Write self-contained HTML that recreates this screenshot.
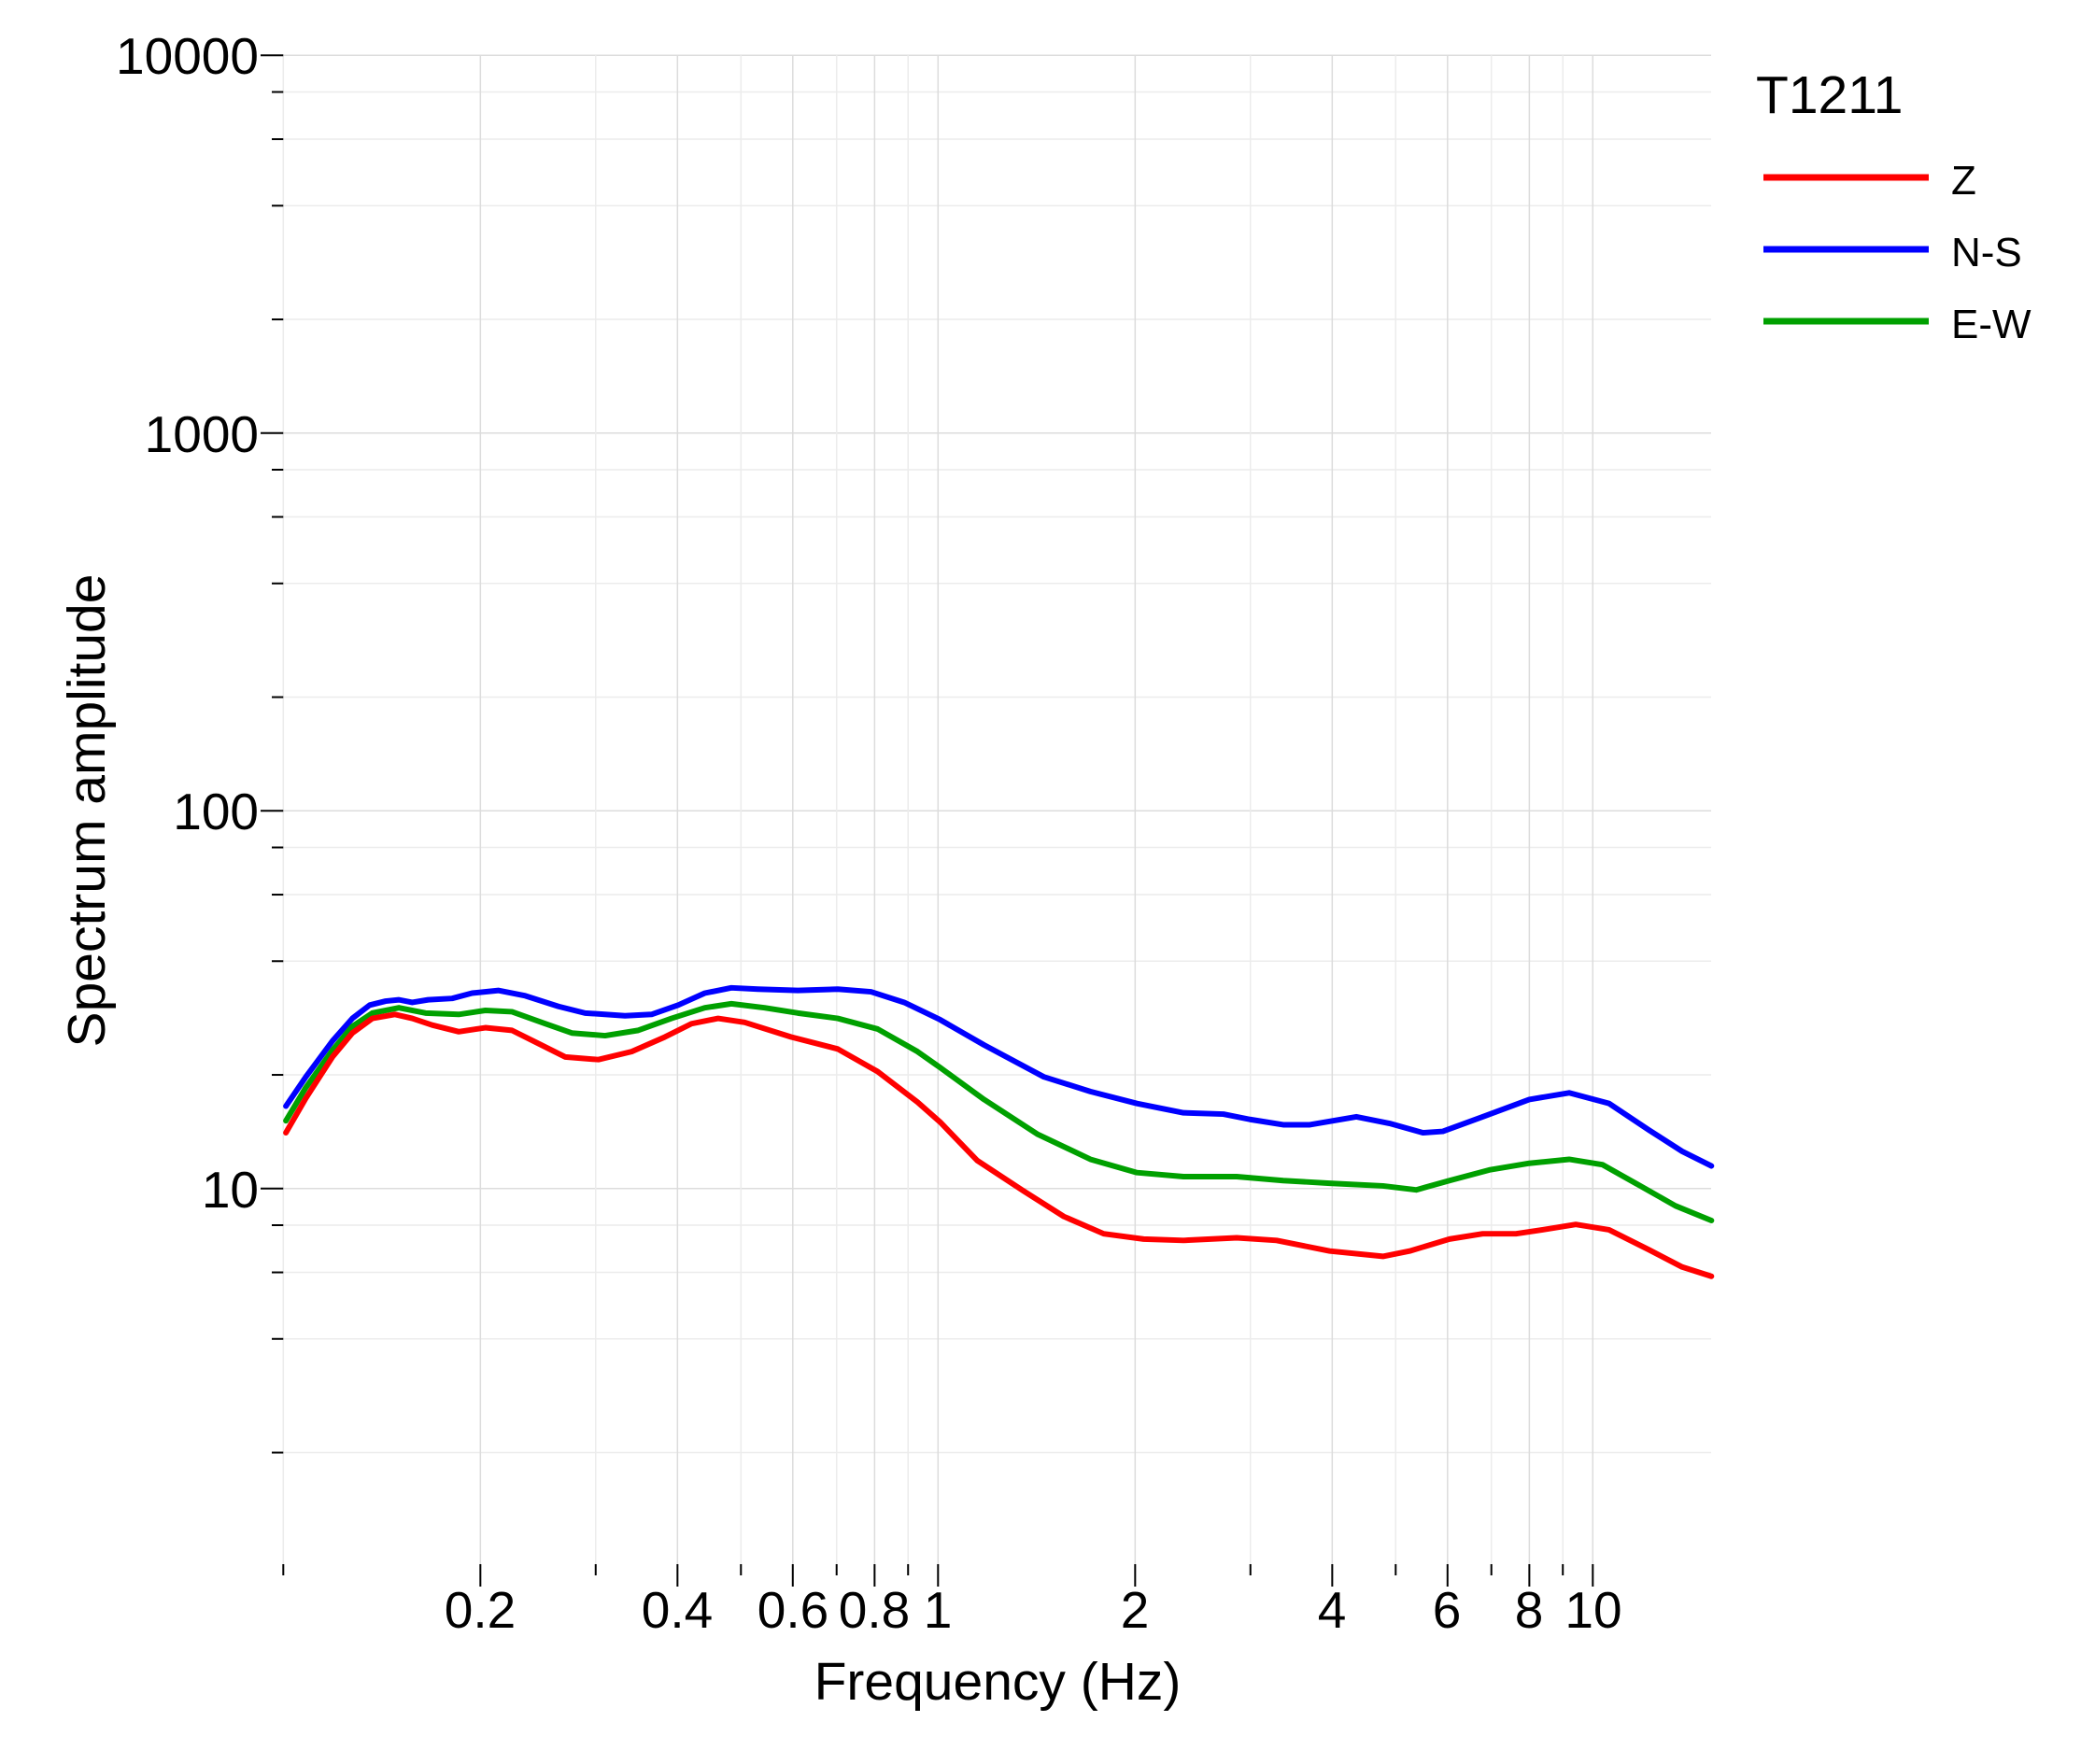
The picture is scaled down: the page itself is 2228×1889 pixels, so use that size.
<!DOCTYPE html>
<html><head><meta charset="utf-8"><style>
html,body{margin:0;padding:0;background:#fff}
svg{display:block}
text{font-family:"Liberation Sans",Arial,sans-serif;fill:#000}
</style></head><body>
<svg id="s" width="2228" height="1889" viewBox="0 0 2228 1889" xmlns="http://www.w3.org/2000/svg">
<g id="grid"></g>
<g id="ticks"></g>
<g font-size="55" text-anchor="end">
<text x="277" y="79">10000</text>
<text x="277" y="484">1000</text>
<text x="277" y="888">100</text>
<text x="277" y="1293">10</text>
</g>
<g font-size="55" text-anchor="middle">
<text x="514" y="1743">0.2</text>
<text x="725" y="1743">0.4</text>
<text x="849" y="1743">0.6</text>
<text x="936" y="1743">0.8</text>
<text x="1004" y="1743">1</text>
<text x="1215" y="1743">2</text>
<text x="1426" y="1743">4</text>
<text x="1549" y="1743">6</text>
<text x="1637" y="1743">8</text>
<text x="1706" y="1743">10</text>
</g>
<text x="1068" y="1820" font-size="57" text-anchor="middle">Frequency (Hz)</text>
<text transform="translate(112,868) rotate(-90)" font-size="57" text-anchor="middle">Spectrum amplitude</text>
<g transform="scale(1.4237)" fill="none" stroke-width="4.2" stroke-linejoin="round" stroke-linecap="round">
<polyline stroke="#0000ff" points="215,832 230,810 250,783 265,766 278,756 290,753 300,752 310,754 322,752 340,751 355,747 375,745 395,749 420,757 440,762 470,764 490,763 510,756 530,747 550,743 570,744 600,745 630,744 655,746 680,754 707,767 740,786 785,810 820,821 855,830 890,837 920,838 940,842 965,846 985,846 1020,840 1045,845 1070,852 1085,851 1115,840 1150,827 1180,822 1210,830 1240,850 1265,866 1287,877"/>
<polyline stroke="#00a000" points="215,843 230,818 250,790 265,772 280,762 300,758 320,762 345,763 365,760 385,761 410,770 430,777 455,779 480,775 505,766 530,758 550,755 575,758 600,762 630,766 660,774 690,791 707,803 740,827 780,853 820,872 855,882 890,885 930,885 965,888 1000,890 1040,892 1065,895 1090,888 1120,880 1150,875 1180,872 1205,876 1230,890 1260,907 1287,918"/>
<polyline stroke="#ff0000" points="215,852 230,826 250,795 265,777 280,766 297,763 310,766 325,771 345,776 365,773 385,775 405,785 425,795 450,797 475,791 500,780 520,770 540,766 560,769 595,780 630,789 660,806 690,829 707,844 735,873 770,896 800,915 830,928 860,932 890,933 930,931 960,933 1000,941 1040,945 1060,941 1090,932 1115,928 1140,928 1160,925 1185,921 1210,925 1240,940 1265,953 1287,960"/>
</g>
<text x="1880" y="121" font-size="57">T1211</text>
<g stroke-width="7">
<line x1="1888" y1="190" x2="2065" y2="190" stroke="#ff0000"/>
<line x1="1888" y1="267" x2="2065" y2="267" stroke="#0000ff"/>
<line x1="1888" y1="344" x2="2065" y2="344" stroke="#00a000"/>
</g>
<g font-size="44">
<text x="2089" y="208">Z</text>
<text x="2089" y="285">N-S</text>
<text x="2089" y="362">E-W</text>
</g>
</svg>
<script>
var NS="http://www.w3.org/2000/svg";
function X(f){return 303.3+701*(Math.log10(f)+1);}
function Y(v){return 59.3+404.5*(4-Math.log10(v));}
function ln(g,x1,y1,x2,y2,c,w){var l=document.createElementNS(NS,"line");l.setAttribute("x1",x1);l.setAttribute("y1",y1);l.setAttribute("x2",x2);l.setAttribute("y2",y2);l.setAttribute("stroke",c);l.setAttribute("stroke-width",w);document.getElementById(g).appendChild(l);}
var L=303.3,R=1832,T=59.3,B=1677;
for(var d=0;d<4;d++){var b=Math.pow(10,d);
 [1,2,4,6,8].forEach(function(m){if(d==0&&m==1)return;var v=m*b;var y=Y(v);
  ln("grid",L,y,R,y,m==1?"#dcdcdc":"#ececec",1.5);
  ln("ticks",m==1?279:291,y,L,y,"#000",2);});}
ln("grid",L,T,R,T,"#dcdcdc",1.5);ln("ticks",279,T,L,T,"#000",2);
var fs=[0.1,0.2,0.3,0.4,0.5,0.6,0.7,0.8,0.9,1,2,3,4,5,6,7,8,9,10];
var maj={0.2:1,0.4:1,0.6:1,0.8:1,1:1,2:1,4:1,6:1,8:1,10:1};
fs.forEach(function(f){var x=X(f);
 ln("grid",x,T,x,B-2,maj[f]?"#dcdcdc":"#ececec",1.5);
 ln("ticks",x,1675,x,maj[f]?1699:1687,"#000",2);});
</script>
</body></html>
